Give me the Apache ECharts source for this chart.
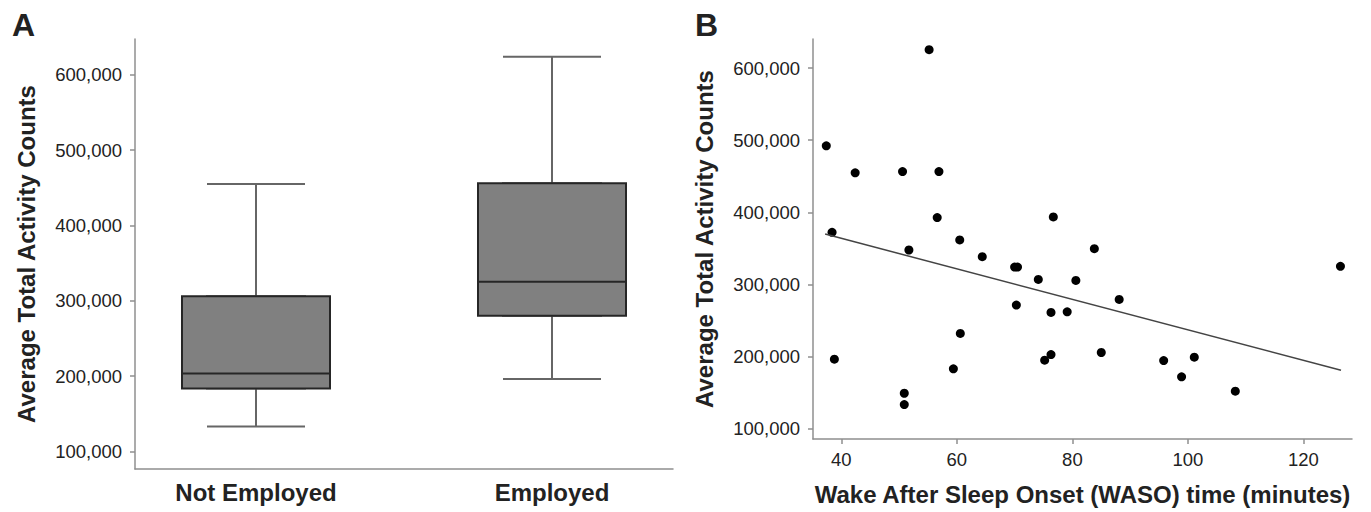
<!DOCTYPE html>
<html>
<head>
<meta charset="utf-8">
<script src="https://cdn.jsdelivr.net/npm/echarts@6/dist/echarts.min.js"></script>
<style>
  html, body { margin: 0; padding: 0; background: #fff; }
  #chart { width: 1371px; height: 512px; }
</style>
</head>
<body>
<div id="chart"></div>
<script>
// --- Panel A: box plot by employment ---
var employment = ['Not Employed', 'Employed'];
var boxMin = [133000, 196000];
var boxQ1 = [183500, 280000];
var boxMedian = [203500, 325000];
var boxQ3 = [305800, 456000];
var boxMax = [455000, 624000];
var countTicks = [100000, 200000, 300000, 400000, 500000, 600000];

// --- Panel B: WASO vs activity counts ---
var wasoMinutes = [55.2, 37.4, 42.4, 50.6, 56.9, 56.6, 76.7, 38.4, 60.5, 51.7, 83.8,
  64.4, 70.0, 70.5, 126.4, 74.1, 80.6, 88.1, 70.3, 76.3, 79.1, 60.6, 85.0, 76.3,
  75.2, 38.8, 95.8, 101.1, 59.4, 98.9, 50.9, 108.2, 50.9];
var activityCounts = [625400, 492200, 454800, 456600, 456600, 392800, 393700, 372400,
  361800, 347900, 349800, 338700, 324300, 324300, 325300, 307200, 305800, 279500,
  271600, 261400, 262300, 232300, 205900, 203100, 195300, 196700, 194800, 199400,
  183300, 172200, 149500, 152300, 133800];
var fitLine = [[37.2, 370000], [126.5, 181400]];
var wasoTicks = [40, 60, 80, 100, 120];

var font = "'Liberation Sans', Arial, sans-serif";
var ink = '#222';
var axisGray = '#8f8f8f';

function fmt(v) { return Math.round(v).toLocaleString('en-US'); }

var whiskerData = employment.map(function(c, i) {
  return [boxMin[i], boxQ1[i], boxMedian[i], boxQ3[i], boxMax[i]];
});
var boxData = employment.map(function(c, i) {
  return [boxQ1[i], boxQ1[i], boxMedian[i], boxQ3[i], boxQ3[i]];
});
var points = wasoMinutes.map(function(x, i) { return [x, activityCounts[i]]; });

var countAxis = function(grid, min, max, show) {
  return {
    type: 'value', gridIndex: grid, min: min, max: max, show: show,
    name: 'Average Total Activity Counts', nameLocation: 'middle', nameGap: 97,
    nameTextStyle: { fontFamily: font, fontSize: 24, fontWeight: 'bold', color: ink },
    axisLine: { show: true, lineStyle: { color: axisGray, width: 1.5 } },
    axisTick: { show: true, length: 5, customValues: countTicks, lineStyle: { color: axisGray, width: 1.5 } },
    axisLabel: { customValues: countTicks, margin: 13, fontFamily: font, fontSize: 18.5, color: ink, formatter: fmt },
    splitLine: { show: false }
  };
};

var chart = echarts.init(document.getElementById('chart'), null, { renderer: 'svg' });
chart.setOption({
  animation: false,
  title: [
    { text: 'A', left: 7, top: 4, textStyle: { fontFamily: font, fontSize: 32, fontWeight: 'bold', color: ink } },
    { text: 'B', left: 690, top: 4, textStyle: { fontFamily: font, fontSize: 32, fontWeight: 'bold', color: ink } }
  ],
  grid: [
    { left: 135, right: 698, top: 39, bottom: 43 },
    { left: 108, right: 671, top: 39, bottom: 43 },
    { left: 813, right: 19, top: 39, bottom: 73 }
  ],
  xAxis: [
    { type: 'value', gridIndex: 0, min: 0, max: 1,
      axisLine: { show: true, lineStyle: { color: axisGray, width: 1.5 } },
      axisTick: { show: false }, axisLabel: { show: false }, splitLine: { show: false } },
    { type: 'category', gridIndex: 1, data: employment,
      axisLine: { show: false }, axisTick: { show: false },
      axisLabel: { margin: 11, fontFamily: font, fontSize: 24, fontWeight: 'bold', color: ink } },
    { type: 'category', gridIndex: 1, data: employment, show: false },
    { type: 'value', gridIndex: 2, min: 35.1, max: 128.4,
      name: 'Wake After Sleep Onset (WASO) time (minutes)', nameLocation: 'middle', nameGap: 43,
      nameTextStyle: { fontFamily: font, fontSize: 24, fontWeight: 'bold', color: ink },
      axisLine: { show: true, lineStyle: { color: axisGray, width: 1.5 } },
      axisTick: { show: true, length: 5, customValues: wasoTicks, lineStyle: { color: axisGray, width: 1.5 } },
      axisLabel: { customValues: wasoTicks, margin: 11, fontFamily: font, fontSize: 18.5, color: ink },
      splitLine: { show: false } }
  ],
  yAxis: [
    countAxis(0, 76600, 647400, true),
    countAxis(1, 76600, 647400, false),
    countAxis(2, 86100, 640200, true)
  ],
  series: [
    {
      type: 'boxplot', xAxisIndex: 2, yAxisIndex: 1,
      data: whiskerData, boxWidth: [98, 98], silent: true,
      itemStyle: { color: '#808080', borderColor: '#666', borderWidth: 2 }
    },
    {
      type: 'boxplot', xAxisIndex: 1, yAxisIndex: 1, z: 3,
      data: boxData, boxWidth: [148, 148], silent: true,
      itemStyle: { color: '#808080', borderColor: '#262626', borderWidth: 2 }
    },
    {
      type: 'line', xAxisIndex: 3, yAxisIndex: 2,
      data: fitLine, symbol: 'none', silent: true,
      lineStyle: { color: '#444', width: 1.5 }
    },
    {
      type: 'scatter', xAxisIndex: 3, yAxisIndex: 2,
      data: points, symbolSize: 9, silent: true,
      itemStyle: { color: '#000', opacity: 1 }
    }
  ]
});
</script>
</body>
</html>
